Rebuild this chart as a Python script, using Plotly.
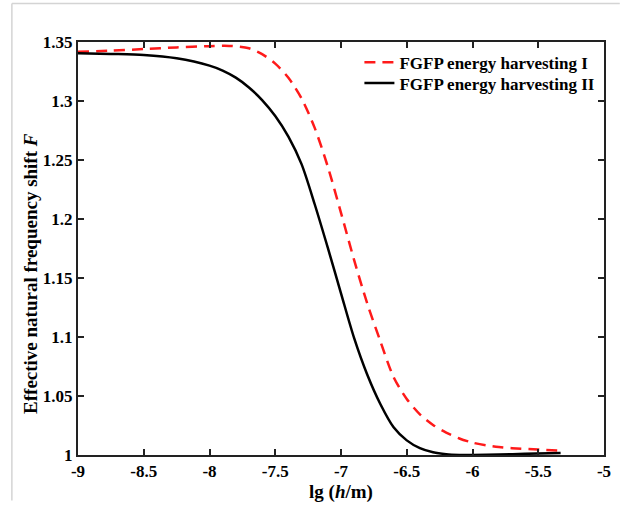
import plotly.graph_objects as go

# Series I (red dashed)
x_I = [-9.0, -8.75, -8.5, -8.25, -8.0, -7.85, -7.7, -7.6, -7.5, -7.4, -7.3, -7.2, -7.1,
       -7.0, -6.9, -6.8, -6.7, -6.6, -6.5, -6.4, -6.3, -6.2, -6.1, -6.0, -5.9, -5.8,
       -5.7, -5.5, -5.33]
F_I = [1.3417, 1.3427, 1.3440, 1.3454, 1.3465, 1.3467, 1.3447, 1.3397, 1.3317, 1.3197,
       1.3022, 1.2772, 1.2442, 1.2052, 1.1652, 1.1282, 1.0962, 1.0660, 1.0475, 1.0345,
       1.0255, 1.0190, 1.0140, 1.0105, 1.0083, 1.0068, 1.0058, 1.0046, 1.0037]

# Series II (black solid)
x_II = [-9.0, -8.75, -8.5, -8.25, -8.0, -7.9, -7.8, -7.7, -7.6, -7.5, -7.4, -7.3, -7.2,
        -7.1, -7.0, -6.9, -6.8, -6.7, -6.6, -6.5, -6.4, -6.3, -6.2, -6.1, -6.0, -5.8,
        -5.6, -5.33]
F_II = [1.3405, 1.3399, 1.3390, 1.3362, 1.3300, 1.3258, 1.3198, 1.3115, 1.3008, 1.2873,
        1.2698, 1.2465, 1.2125, 1.1755, 1.1370, 1.0990, 1.0680, 1.0430, 1.0235, 1.0124,
        1.0058, 1.0023, 1.0007, 1.0001, 1.0000, 1.0004, 1.0010, 1.0017]

names = ["FGFP energy harvesting I", "FGFP energy harvesting II"]

x_tickvals = [-9, -8.5, -8, -7.5, -7, -6.5, -6, -5.5, -5]
x_ticktext = ["-9", "-8.5", "-8", "-7.5", "-7", "-6.5", "-6", "-5.5", "-5"]
y_tickvals = [1, 1.05, 1.1, 1.15, 1.2, 1.25, 1.3, 1.35]
y_ticktext = ["1", "1.05", "1.1", "1.15", "1.2", "1.25", "1.3", "1.35"]

x_title = "lg (<i>h</i>/m)"
y_title = "Effective natural frequency shift <i>F</i>"

FONT = "Liberation Serif"

fig = go.Figure()
fig.add_trace(go.Scatter(x=x_I, y=F_I, mode="lines", name="<b>%s</b>" % names[0], legend="legend",
                         line=dict(color="#ff1a1a", width=2.5, dash="11px,7px", shape="spline", smoothing=0.8)))
fig.add_trace(go.Scatter(x=x_II, y=F_II, mode="lines", name="<b>%s</b>" % names[1], legend="legend2",
                         line=dict(color="black", width=2.5, shape="spline", smoothing=0.8)))

axis_common = dict(showline=True, linecolor="#222", linewidth=2, mirror="ticks",
                   ticks="inside", ticklen=6, tickwidth=1.5, tickcolor="#222",
                   showgrid=False, zeroline=False,
                   tickfont=dict(family=FONT, size=17, color="black"))

leg_common = dict(xanchor="left", yanchor="middle", bgcolor="rgba(0,0,0,0)", borderwidth=0,
                  font=dict(family=FONT, size=17, color="black"), itemwidth=30)

fig.update_layout(
    width=622, height=506,
    margin=dict(l=78, r=11, t=42, b=46),
    paper_bgcolor="white", plot_bgcolor="white",
    showlegend=True,
    legend=dict(x=0.535, y=0.950, **leg_common),
    legend2=dict(x=0.535, y=0.8995, **leg_common),
    xaxis=dict(range=[-9, -5], tickvals=x_tickvals,
               ticktext=["<b>%s</b>" % t for t in x_ticktext],
               title=dict(text="<b>%s</b>" % x_title, font=dict(family=FONT, size=19, color="black"), standoff=0),
               **axis_common),
    yaxis=dict(range=[1, 1.35], tickvals=y_tickvals,
               ticktext=["<b>%s</b>" % t for t in y_ticktext],
               **axis_common),
    font=dict(family=FONT, color="black"),
    annotations=[dict(text="<b>%s</b>" % y_title, xref="paper", yref="paper",
                      x=-0.090, y=0.44, xanchor="center", yanchor="middle",
                      textangle=-90, showarrow=False,
                      font=dict(family=FONT, size=19, color="black"))],
    shapes=[
        dict(type="line", xref="paper", yref="paper", x0=-0.1257, x1=-0.1257, y0=-0.11, y1=1.0933,
             line=dict(color="#d4d4d4", width=1.5)),
        dict(type="line", xref="paper", yref="paper", x0=-0.1257, x1=1.03, y0=1.0933, y1=1.0933,
             line=dict(color="#d4d4d4", width=1.5)),
    ],
)

fig.write_html("out.html")
